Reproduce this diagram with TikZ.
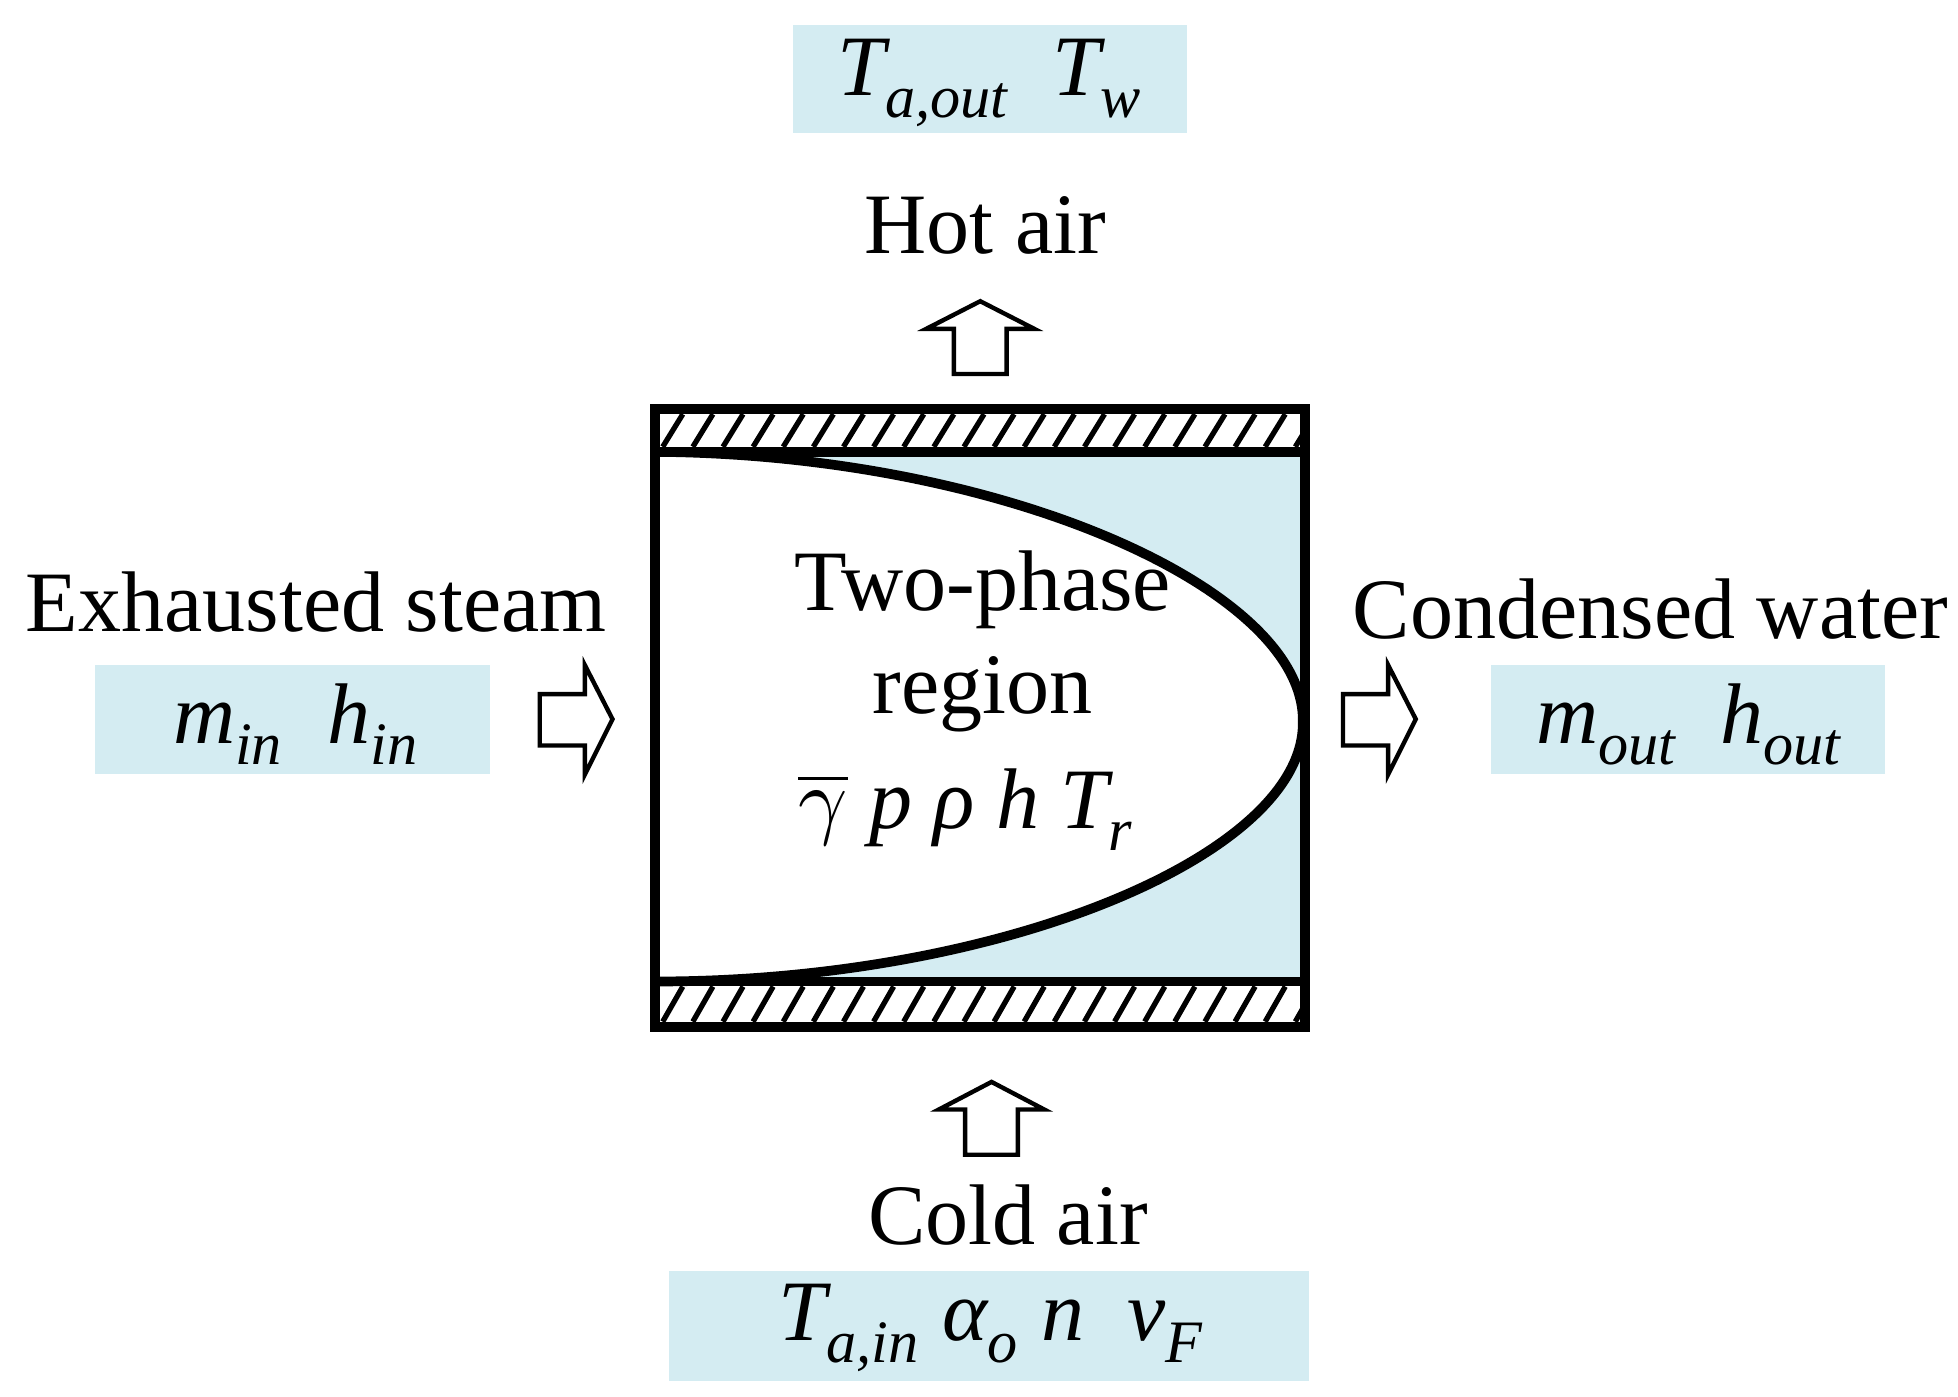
\documentclass[tikz,border=0pt]{standalone}
\usepackage{fontspec}
\setmainfont{Liberation Serif}
\usepackage{unicode-math}
\setmathfont{Latin Modern Math}
\definecolor{lbc}{RGB}{212,236,242}
\begin{document}
\begin{tikzpicture}[x=0.01cm,y=-0.01cm,
  lb/.style={fill=lbc, draw=none},
  big/.style={font=\fontsize{19.5}{22}\selectfont, inner sep=0},
  it/.style={font=\fontsize{19.5}{22}\selectfont\itshape, inner sep=0},
  arr/.style={draw=black, line width=1pt, fill=white}]
\useasboundingbox (0,0) rectangle (1560,1113);
% boxes
\fill[lb] (632,20) rectangle (946,106);
\fill[lb] (76,530) rectangle (390,617);
\fill[lb] (1188,530) rectangle (1502,617);
\fill[lb] (533,1013) rectangle (1043,1100);
\node[it] (tout) at (789,66) {T\textsubscript{a,out}\ \ T\textsubscript{w}};
\node[it] (min) at (236,577) {m\textsubscript{in}\ \ h\textsubscript{in}};
\node[it] (mout) at (1346,577) {m\textsubscript{out}\ \ h\textsubscript{out}};
\node[it] (tin) at (790,1058) {T\textsubscript{a,in} α\textsubscript{o}\ n\ \ v\textsubscript{F}};
% labels
\node[big] (hot) at (785,180) {Hot air};
\node[big] (exh) at (252,480) {Exhausted steam};
\node[big] (cond) at (1315,485) {Condensed water};
\node[big] (cold) at (803,968) {Cold air};
% main device
\fill[lbc] (522,360) rectangle (1040,782);
\fill[white] (522,360) .. controls (800,362) and (1040,470) .. (1038,575)
  .. controls (1040,680) and (800,782) .. (522,782) -- cycle;
\draw[line width=2.2pt] (522,360) .. controls (800,362) and (1040,470) .. (1038,575)
  .. controls (1040,680) and (800,782) .. (522,782);
\begin{scope}
\clip (522,326) rectangle (1040,360);
\foreach \i in {0,...,22} \draw[line width=1.2pt] ({528+\i*24},356) -- ({544+\i*24},330);
\end{scope}
\begin{scope}
\clip (522,782) rectangle (1040,818);
\foreach \i in {0,...,22} \draw[line width=1.2pt] ({528+\i*24},814) -- ({544+\i*24},786);
\end{scope}
\draw[line width=2.2pt] (522,326) rectangle (1040,818);
\draw[line width=2.2pt] (522,360) -- (1040,360);
\draw[line width=2.2pt] (522,782) -- (1040,782);
\node[big] (two) at (783,470) {Two-phase};
\node[big] (reg) at (783,553) {region};
\node[it] (var) at (770,645) {$\overline{\gamma}$\ p\ ρ\ h\ T\textsubscript{r}};
% arrows
\draw[arr] (760,298) -- (760,262) -- (738,262) -- (781,240) -- (824,262) -- (802,262) -- (802,298) -- cycle;
\draw[arr] (769,920) -- (769,884) -- (748,884) -- (790,862) -- (832,884) -- (811,884) -- (811,920) -- cycle;
\draw[arr] (430,553) -- (466,553) -- (466,530) -- (488,573) -- (466,617) -- (466,594) -- (430,594) -- cycle;
\draw[arr] (1070,553) -- (1106,553) -- (1106,530) -- (1128,573) -- (1106,617) -- (1106,594) -- (1070,594) -- cycle;
\end{tikzpicture}
\end{document}
